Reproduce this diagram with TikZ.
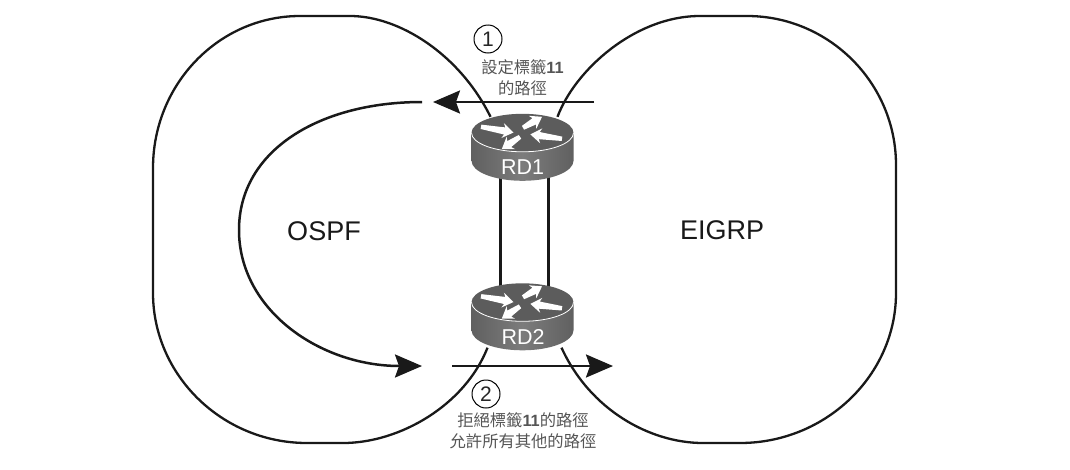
\documentclass[tikz,border=0pt]{standalone}
\usepackage{fontspec}
\setmainfont{Liberation Sans}
\newfontfamily\cjk{Noto Sans CJK TC}
\usetikzlibrary{arrows.meta}
\definecolor{rtop}{HTML}{5C5C5C}
\definecolor{rbodyd}{HTML}{606060}
\definecolor{rbodyl}{HTML}{7C7C7C}
\definecolor{ltext}{HTML}{555555}
\newcommand{\rarrow}[4]{%
  \fill[white,shift={(#1,#2)},rotate=#3]
    (0,-2.2) -- (#4-9,-3.6) -- (#4-11,-7.5) -- (#4,0) -- (#4-11,7.5) -- (#4-9,3.6) -- (0,2.2) -- cycle;}
\newcommand{\routershape}[1]{%
  \begin{scope}[shift={(#1.north)},yshift=-19pt]
    \shade[left color=rbodyd,right color=rbodyd,middle color=rbodyl] (-51,0) -- (-51,28) arc[x radius=51,y radius=20,start angle=180,end angle=0] -- (51,0) -- cycle;
    \fill[rtop] (0,0) ellipse[x radius=51,y radius=19];
    \draw[white,line width=0.8pt] (-51,0) arc[x radius=51,y radius=19,start angle=180,end angle=0];
    \rarrow{-41.5}{-6}{-10}{33}
    \rarrow{0.5}{-5}{30}{22}
    \rarrow{39.5}{6}{172}{32}
    \rarrow{-2.5}{4}{214}{22}
  \end{scope}}
\tikzset{
  outline/.style={draw=black!90,line width=2.3pt},
  bigarrow/.style={draw=black!90,line width=2.5pt,-{Stealth[length=27pt,width=23pt,inset=4pt]}},
  link/.style={draw=black!90,line width=2.2pt},
  routerbox/.style={minimum width=102pt,minimum height=67pt,inner sep=0pt},
  routerlabel/.style={text=white,font=\fontsize{21.5}{21.5}\selectfont,inner sep=0pt},
  domainlabel/.style={font=\fontsize{27}{27}\selectfont,text=black!90,inner sep=0pt},
  stepnum/.style={circle,draw=black,line width=1pt,minimum size=28pt,inner sep=0pt,font=\fontsize{21}{21}\selectfont,text=black!85},
  note/.style={font=\fontsize{16.3}{21}\selectfont,text=ltext,align=center,inner sep=0pt},
}
\begin{document}
\begin{tikzpicture}[x=1pt,y=-1pt]
\useasboundingbox[fill=white] (0,0) rectangle (1070,469);
\node[routerbox] (rd1) at (522.5,147.5) {};
\node[routerbox] (rd2) at (522.5,317) {};
% links
\draw[link] ([xshift=-22pt,yshift=5pt]rd1.south) -- ([xshift=-22pt,yshift=-10pt]rd2.north);
\draw[link] ([xshift=26pt,yshift=5pt]rd1.south) -- ([xshift=26pt,yshift=-10pt]rd2.north);
% domains
\draw[outline] ([xshift=-32pt,yshift=-3pt]rd1.north) .. controls (460,55) and (400,16) .. (350,16) -- (300,16)
  .. controls (219,16) and (153,84) .. (153,168) -- (153,293)
  .. controls (153,375) and (222,443) .. (307,443) -- (343,443)
  .. controls (400,443) and (465,405) .. ([xshift=-35pt,yshift=3pt]rd2.south);
\draw[outline] ([xshift=35pt,yshift=-3pt]rd1.north) .. controls (575,70) and (635,16) .. (700,16) -- (747,16)
  .. controls (829,16) and (896,83) .. (896,165) -- (896,293)
  .. controls (896,375) and (826,443) .. (740,443) -- (703,443)
  .. controls (650,443) and (590,410) .. ([xshift=39pt,yshift=3pt]rd2.south);
% routers
\routershape{rd1}
\routershape{rd2}
\node[routerlabel] (rd1t) at (522.5,167) {RD1};
\node[routerlabel] (rd2t) at (523,337) {RD2};
% arrows
\coordinate (a1s) at (594,102);
\coordinate (a1e) at (433,102);
\coordinate (a2s) at (452,366);
\coordinate (a2e) at (613,366);
\coordinate (c1s) at (422,102);
\coordinate (c1e) at (422,366);
\draw[bigarrow] (a1s) -- (a1e);
\draw[bigarrow] (a2s) -- (a2e);
\draw[bigarrow] (c1s) .. controls (320,102) and (239,150) .. (239,230)
  .. controls (239,310) and (320,366) .. (c1e);
% labels
\node[domainlabel] (ospf) at (324,231) {OSPF};
\node[domainlabel] (eigrp) at (722,230) {EIGRP};
\node[stepnum] (n1) at (488,39) {1};
\node[stepnum] (n2) at (486,394) {2};
\node[note] (t1) at (522.5,78) {{\cjk 設定標籤}\textbf{11}\\{\cjk 的路徑}};
\node[note] (t2) at (523,431) {{\cjk 拒絕標籤}\textbf{11}{\cjk 的路徑}\\{\cjk 允許所有其他的路徑}};
\end{tikzpicture}
\end{document}
